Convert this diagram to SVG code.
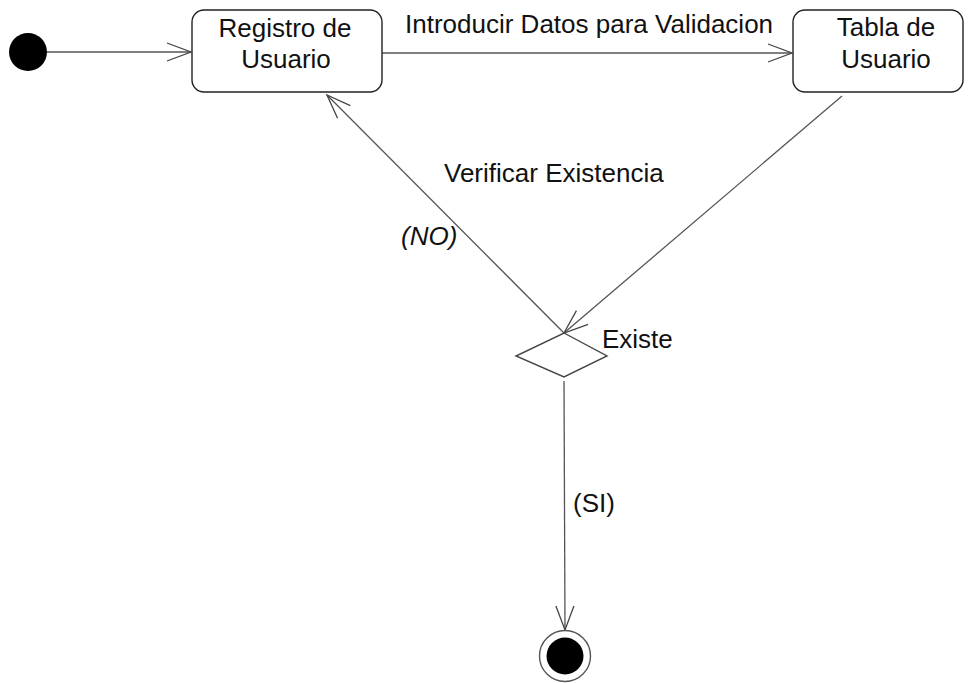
<svg xmlns="http://www.w3.org/2000/svg" width="971" height="683" viewBox="0 0 971 683">
<style>
.box{fill:#fff;stroke:#222;stroke-width:1.4}
.edge{fill:none;stroke:#555;stroke-width:1.3}
.lbl{font-family:"Liberation Sans",Arial,sans-serif;font-size:26px;fill:#111}
.ctr{text-anchor:middle}
</style>
<defs>
<marker id="open" markerUnits="userSpaceOnUse" markerWidth="30" markerHeight="24" viewBox="-26 -12 30 24" refX="0" refY="0" orient="auto">
<path d="M-24,-9 L0,0 L-24,9" fill="none" stroke="#444" stroke-width="1.3"/>
</marker>
</defs>
<rect width="971" height="683" fill="#fff"/>
<g id="connectors">
<line class="edge" x1="47" y1="52" x2="191" y2="52" marker-end="url(#open)"/>
<line class="edge" x1="382" y1="53" x2="792" y2="53" marker-end="url(#open)"/>
<line class="edge" x1="842" y1="96" x2="564" y2="333" marker-end="url(#open)"/>
<line class="edge" x1="564" y1="333" x2="327" y2="95" marker-end="url(#open)"/>
<line class="edge" x1="564" y1="381" x2="565" y2="630" marker-end="url(#open)"/>
<text class="lbl" x="405" y="33">Introducir Datos para Validacion</text>
<text class="lbl" x="444" y="182">Verificar Existencia</text>
<text class="lbl" x="401" y="245" font-style="italic">(NO)</text>
<text class="lbl" x="573" y="512">(SI)</text>
</g>
<g id="initial">
<circle cx="28" cy="52" r="19" fill="#000"/>
</g>
<g id="registro">
<rect class="box" x="192" y="10" width="190" height="82" rx="12"/>
<text class="lbl ctr" x="285" y="37">Registro de</text>
<text class="lbl ctr" x="286" y="68">Usuario</text>
</g>
<g id="tabla">
<rect class="box" x="793" y="10" width="170" height="82" rx="12"/>
<text class="lbl ctr" x="886" y="36">Tabla de</text>
<text class="lbl ctr" x="886" y="68">Usuario</text>
</g>
<g id="decision">
<polygon class="box" points="564,333 607,356 564,377 516,356" style="stroke:#444"/>
<text class="lbl" x="602" y="348">Existe</text>
</g>
<g id="final">
<circle cx="565" cy="656" r="25.5" fill="#fff" stroke="#555" stroke-width="1.4"/>
<circle cx="565" cy="656" r="18.5" fill="#000"/>
</g>
</svg>
